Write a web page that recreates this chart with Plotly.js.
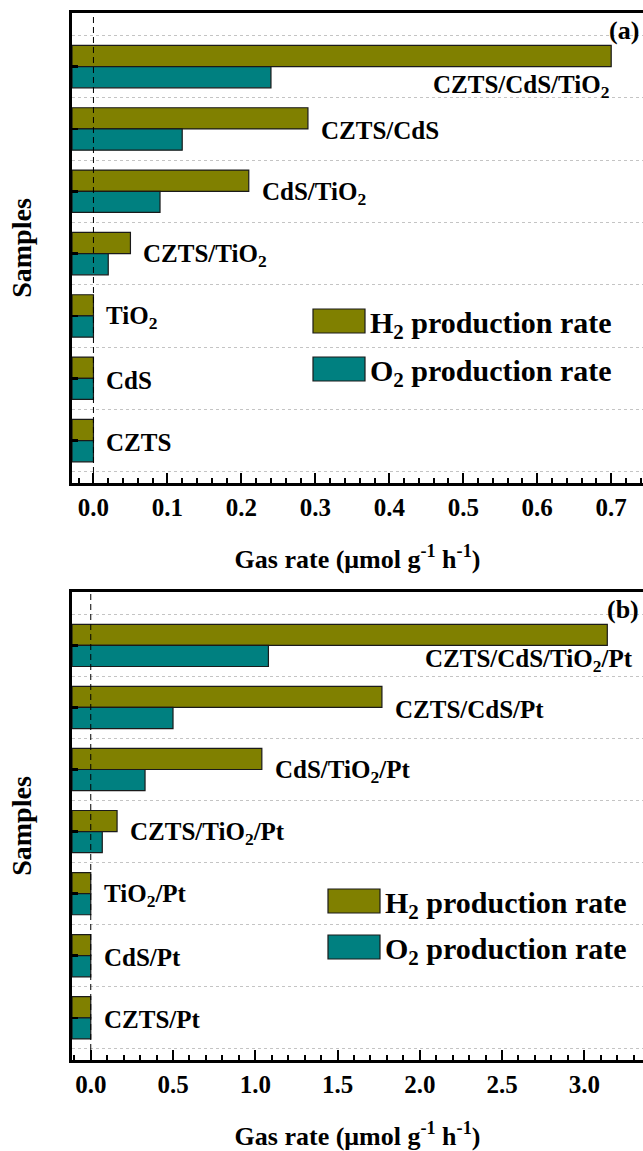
<!DOCTYPE html>
<html>
<head>
<meta charset="utf-8">
<script src="https://cdn.plot.ly/plotly-3.0.1.min.js"></script>
<style>
  html, body { margin: 0; padding: 0; background: #ffffff; overflow: hidden; }
  #chart { width: 643px; height: 1151px; }
</style>
</head>
<body>
<div id="chart"></div>
<script>
// Samples, listed top to bottom
const samplesA = ["CZTS/CdS/TiO<sub>2</sub>", "CZTS/CdS", "CdS/TiO<sub>2</sub>", "CZTS/TiO<sub>2</sub>", "TiO<sub>2</sub>", "CdS", "CZTS"];
const samplesB = ["CZTS/CdS/TiO<sub>2</sub>/Pt", "CZTS/CdS/Pt", "CdS/TiO<sub>2</sub>/Pt", "CZTS/TiO<sub>2</sub>/Pt", "TiO<sub>2</sub>/Pt", "CdS/Pt", "CZTS/Pt"];

// Gas evolution rates, µmol g-1 h-1 (a: without Pt, b: with Pt co-catalyst)
const h2RateA = [0.70, 0.29, 0.21, 0.05, 0, 0, 0];
const o2RateA = [0.24, 0.12, 0.09, 0.02, 0, 0, 0];
const h2RateB = [3.14, 1.77, 1.04, 0.16, 0, 0, 0];
const o2RateB = [1.08, 0.50, 0.33, 0.07, 0, 0, 0];

const seriesNames = ["H<sub>2</sub> production rate", "O<sub>2</sub> production rate"];
const panelTags = ["(a)", "(b)"];
const xTitle = "Gas rate (\u03bcmol g<sup>-1</sup> h<sup>-1</sup>)";
const yTitle = "Samples";

// ---- page geometry (px) ----
const W = 643, H = 1151;
const PLOT_LEFT = 72;
const panels = [
  { top: 13,  bottom: 483,  xmin: -0.029, xmax: 0.743, major: 0.1, minor: 0.02,
    h2: h2RateA, o2: o2RateA, names: samplesA,
    legendX: 313, legendY: [321, 369], topLabelShift: [0, -20] },
  { top: 592, bottom: 1060, xmin: -0.114, xmax: 3.357, major: 0.5, minor: 0.1,
    h2: h2RateB, o2: o2RateB, names: samplesB,
    legendX: 328, legendY: [901, 947], topLabelShift: [28, -15] }
];

const OLIVE = "#808000", TEAL = "#008080";
const SERIF = "Liberation Serif, Times New Roman, serif";
const px2x = x => x / W;
const px2y = y => 1 - y / H;

const traces = [];
const annotations = [];
const shapes = [];
const layout = {
  width: W, height: H,
  margin: { l: 0, r: 0, t: 0, b: 0 },
  paper_bgcolor: "#ffffff", plot_bgcolor: "#ffffff",
  barmode: "group", bargap: 0.32, bargroupgap: 0,
  showlegend: false,
  font: { family: SERIF, size: 24, color: "#000000" }
};

panels.forEach((p, k) => {
  const xa = k === 0 ? "x" : "x2", ya = k === 0 ? "y" : "y2";
  const xKey = k === 0 ? "xaxis" : "xaxis2", yKey = k === 0 ? "yaxis" : "yaxis2";
  const idx = p.names.map((_, i) => i);

  // bars start at the left edge of the frame
  [[p.h2, OLIVE, seriesNames[0]], [p.o2, TEAL, seriesNames[1]]].forEach(([vals, col, nm]) => {
    traces.push({
      type: "bar", orientation: "h", name: nm,
      y: idx, x: vals.map(v => v - p.xmin), base: p.xmin,
      xaxis: xa, yaxis: ya,
      marker: { color: col, line: { color: "#1a1a1a", width: 1.2 } },
      hoverinfo: "skip"
    });
  });

  layout[xKey] = {
    domain: [px2x(PLOT_LEFT), 1],
    anchor: ya,
    range: [p.xmin, p.xmax],
    tick0: 0, dtick: p.major, tickformat: ".1f",
    ticks: "inside", ticklen: 10, tickwidth: 2, tickcolor: "#000",
    minor: { tick0: 0, dtick: p.minor, ticks: "inside", ticklen: 5, tickwidth: 2, tickcolor: "#000", showgrid: false },
    showline: true, linewidth: 3, linecolor: "#000", mirror: true,
    showgrid: false, zeroline: false,
    ticklabelstandoff: 0,
    tickfont: { family: SERIF, size: 25, weight: "bold", color: "#000" },
    title: { text: xTitle, standoff: 30, font: { family: SERIF, size: 26, weight: "bold", color: "#000" } }
  };
  layout[yKey] = {
    domain: [px2y(p.bottom), px2y(p.top)],
    anchor: xa,
    range: [6.68, -0.86],
    tick0: 0, dtick: 1,
    ticks: "inside", ticklen: 6, tickwidth: 2.5, tickcolor: "#000",
    showticklabels: false,
    minor: { tick0: 0.5, dtick: 1, ticks: "", showgrid: true, griddash: "dot", gridcolor: "#c4c4c4", gridwidth: 1 },
    showline: true, linewidth: 3, linecolor: "#000", mirror: false,
    showgrid: false, zeroline: false,
    title: { text: yTitle, standoff: 30, font: { family: SERIF, size: 28, weight: "bold", color: "#000" } }
  };

  // dashed reference line at zero rate
  shapes.push({
    type: "line", xref: xa, yref: ya + " domain", x0: 0, x1: 0, y0: 0, y1: 1,
    line: { color: "#000", width: 1, dash: "6px,4px" }, layer: "above"
  });

  // sample labels next to each bar pair
  p.names.forEach((nm, i) => {
    const first = i === 0;
    annotations.push({
      xref: xa, yref: ya, x: p.h2[i], y: i, text: nm, showarrow: false,
      xanchor: first ? "right" : "left", yanchor: "middle",
      xshift: first ? p.topLabelShift[0] : 11, yshift: first ? p.topLabelShift[1] : -2,
      font: { family: SERIF, size: 25, weight: "bold", color: "#000" }
    });
  });

  // panel tag
  annotations.push({
    xref: "paper", yref: "paper", x: px2x(641), y: px2y(p.top + 17),
    text: panelTags[k], showarrow: false, xanchor: "right", yanchor: "middle",
    font: { family: SERIF, size: 26, weight: "bold", color: "#000" }
  });

  // key: colour swatch + series name
  [OLIVE, TEAL].forEach((col, j) => {
    const cy = p.legendY[j];
    shapes.push({
      type: "rect", xref: "paper", yref: "paper",
      x0: px2x(p.legendX), x1: px2x(p.legendX + 52), y0: px2y(cy - 12), y1: px2y(cy + 12),
      fillcolor: col, line: { color: "#1a1a1a", width: 1.2 }
    });
    annotations.push({
      xref: "paper", yref: "paper", x: px2x(p.legendX + 55), y: px2y(cy + 4),
      text: seriesNames[j], showarrow: false, xanchor: "left", yanchor: "middle",
      font: { family: SERIF, size: 30, weight: "bold", color: "#000" }
    });
  });
});

layout.shapes = shapes;
layout.annotations = annotations;

Plotly.newPlot("chart", traces, layout, { displayModeBar: false, staticPlot: true });
</script>
</body>
</html>
